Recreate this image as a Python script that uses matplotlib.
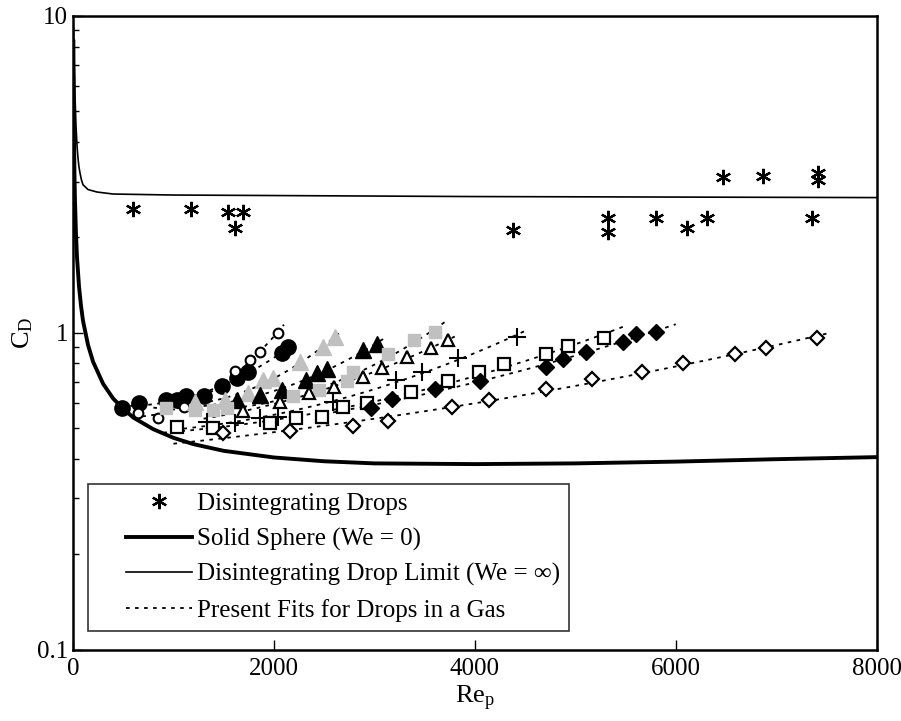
import numpy as np
import matplotlib.pyplot as plt
from matplotlib.lines import Line2D
from matplotlib.legend_handler import HandlerLine2D

plt.rcParams['font.family'] = ['Liberation Serif', 'DejaVu Serif']
plt.rcParams['mathtext.fontset'] = 'custom'
plt.rcParams['mathtext.rm'] = 'Liberation Serif'
plt.rcParams['mathtext.it'] = 'Liberation Serif:italic'

# solid sphere curve (We = 0)
sphere_re = [4, 6, 10, 15, 20, 30, 40, 60, 80, 100, 150, 200, 300, 400, 500, 600, 800,
             1000, 1200, 1500, 2000, 2500, 3000, 4000, 5000, 6000, 7000, 8000]
sphere_cd = [8.3, 6.06, 4.15, 3.14, 2.61, 2.04, 1.73, 1.40, 1.215, 1.09, 0.914, 0.81, 0.69,
             0.62, 0.576, 0.54, 0.496, 0.466, 0.445, 0.424, 0.404, 0.393, 0.387, 0.385,
             0.387, 0.392, 0.399, 0.405]

# disintegrating drop limit (We = inf)
limit_re = [3, 10, 20, 30, 40, 50, 60, 70, 85, 100, 150, 240, 400, 1000, 2000, 4000, 6000, 8000]
limit_cd = [9.5, 7.6, 5.6, 4.5, 3.9, 3.55, 3.33, 3.19, 3.03, 2.93, 2.83, 2.78, 2.74, 2.72,
            2.71, 2.69, 2.68, 2.67]

# disintegrating drops
dis_re = [597, 1174, 1542, 1692, 1612, 4378, 5323, 5323, 5801, 6109, 6308, 6468, 6866, 7353, 7413, 7413]
dis_cd = [2.46, 2.46, 2.40, 2.40, 2.14, 2.11, 2.30, 2.08, 2.30, 2.14, 2.30, 3.10, 3.12, 2.30, 3.19, 3.03]

# drops in a gas, one list per marker series
circ_re = [488, 657, 925, 1035, 1124, 1303, 1483, 1632, 1741, 2080, 2139]
circ_cd = [0.577, 0.599, 0.612, 0.612, 0.631, 0.631, 0.678, 0.718, 0.750, 0.861, 0.900]

ocirc_re = [647, 846, 1104, 1612, 1761, 1861, 2040]
ocirc_cd = [0.557, 0.537, 0.582, 0.756, 0.819, 0.868, 0.996]

gtri_re = [1214, 1512, 1741, 1890, 1990, 2259, 2488, 2607]
gtri_cd = [0.603, 0.612, 0.644, 0.708, 0.718, 0.807, 0.900, 0.968]

btri_re = [1632, 1861, 2080, 2318, 2428, 2527, 2885, 3025]
btri_cd = [0.614, 0.635, 0.658, 0.708, 0.745, 0.767, 0.880, 0.920]

gsq_re = [925, 1214, 1393, 1532, 2189, 2448, 2726, 2786, 3134, 3393, 3602]
gsq_cd = [0.577, 0.570, 0.570, 0.577, 0.631, 0.658, 0.703, 0.750, 0.855, 0.947, 1.004]

otri_re = [1692, 2060, 2348, 2597, 2885, 3075, 3323, 3562, 3731]
otri_cd = [0.565, 0.603, 0.644, 0.673, 0.724, 0.772, 0.837, 0.894, 0.947]

plus_re = [1333, 1612, 1861, 2040, 2587, 3219, 3473, 3831, 4418]
plus_cd = [0.522, 0.518, 0.537, 0.541, 0.603, 0.710, 0.750, 0.835, 0.968]

osq_re = [1035, 1393, 1960, 2219, 2478, 2687, 2925, 3363, 3731, 4045, 4288, 4706, 4925, 5283]
osq_cd = [0.503, 0.499, 0.518, 0.537, 0.541, 0.582, 0.599, 0.649, 0.703, 0.750, 0.795, 0.855, 0.906, 0.961]

bdia_re = [2965, 3174, 3602, 4050, 4706, 4876, 5104, 5473, 5602, 5801]
bdia_cd = [0.577, 0.619, 0.663, 0.703, 0.778, 0.824, 0.868, 0.933, 0.989, 1.006]

odia_re = [1493, 2159, 2786, 3134, 3771, 4139, 4706, 5164, 5662, 6070, 6587, 6895, 7403]
odia_cd = [0.482, 0.488, 0.506, 0.525, 0.582, 0.612, 0.663, 0.713, 0.750, 0.801, 0.855, 0.894, 0.961]

# extent of each dotted fit
fit_lo = [480, 600, 1000, 1300, 800, 1300, 1100, 900, 2500, 1000]
fit_hi = [2200, 2100, 2650, 3100, 3700, 3800, 4500, 5500, 6000, 7500]

gray = '#c0c0c0'
series = [
    (circ_re, circ_cd, dict(marker='o', ms=11, mfc='k', mec='k')),
    (ocirc_re, ocirc_cd, dict(marker='o', ms=7, mfc='white', mec='k', mew=1.5)),
    (gtri_re, gtri_cd, dict(marker='^', ms=11, mfc=gray, mec=gray)),
    (btri_re, btri_cd, dict(marker='^', ms=11, mfc='k', mec='k')),
    (gsq_re, gsq_cd, dict(marker='s', ms=9, mfc=gray, mec=gray)),
    (otri_re, otri_cd, dict(marker='^', ms=9, mfc='white', mec='k', mew=1.6)),
    (plus_re, plus_cd, dict(marker='+', ms=13, mec='k', mew=1.5)),
    (osq_re, osq_cd, dict(marker='s', ms=8, mfc='white', mec='k', mew=1.6)),
    (bdia_re, bdia_cd, dict(marker='D', ms=8, mfc='k', mec='k')),
    (odia_re, odia_cd, dict(marker='D', ms=7, mfc='white', mec='k', mew=1.6)),
]

fig = plt.figure(figsize=(9.01, 7.21), dpi=100)
ax = fig.add_axes([0.081, 0.099, 0.892, 0.879])

ax.plot(sphere_re, sphere_cd, color='k', lw=2.8, zorder=2)
ax.plot(limit_re, limit_cd, color='k', lw=1.2, zorder=2)

for (re, cd, style), lo, hi in zip(series, fit_lo, fit_hi):
    coef = np.polyfit(re, np.log10(cd), 2)
    xs = np.linspace(lo, hi, 100)
    ax.plot(xs, 10 ** np.polyval(coef, xs), color='k', lw=1.3,
            linestyle=(0, (2, 3)), zorder=3)
for re, cd, style in series:
    ax.plot(re, cd, linestyle='none', zorder=4, **style)

ax.plot(dis_re, dis_cd, linestyle='none', marker=(6, 2, 0), ms=11,
        mec='k', mew=1.6, zorder=4)

ax.set_yscale('log')
ax.set_xlim(0, 8000)
ax.set_ylim(0.1, 10)
ax.set_xticks([0, 2000, 4000, 6000, 8000])
ax.set_yticks([0.1, 1, 10])
ax.set_yticklabels(['0.1', '1', '10'])
ax.tick_params(axis='both', which='both', direction='in', labelsize=18)
ax.tick_params(axis='both', which='major', length=7, width=1)
ax.tick_params(axis='y', which='minor', length=4, width=1)
ax.tick_params(axis='y', which='minor', labelleft=False)
ax.tick_params(axis='x', pad=6)
for s in ax.spines.values():
    s.set_linewidth(1.8)

ax.set_xlabel(r'$\mathrm{Re_p}$', fontsize=19, labelpad=3)
ax.set_ylabel(r'$\mathrm{C_D}$', fontsize=19, labelpad=1)

handles = [
    Line2D([], [], linestyle='none', marker=(6, 2, 0), ms=11, mec='k', mew=1.6),
    Line2D([], [], color='k', lw=2.8),
    Line2D([], [], color='k', lw=1.2),
    Line2D([], [], color='k', lw=1.3, linestyle=(0, (2, 3))),
]
labels = ['Disintegrating Drops', 'Solid Sphere (We = 0)',
          'Disintegrating Drop Limit (We = \u221e)', 'Present Fits for Drops in a Gas']
leg = ax.legend(handles, labels, loc='lower left', bbox_to_anchor=(0.019, 0.03),
                borderaxespad=0, fontsize=18, frameon=True, fancybox=False,
                handlelength=3.8, handletextpad=0.2, labelspacing=0.5,
                borderpad=0.35,
                handler_map={h: HandlerLine2D(xpad=1.15) for h in handles})
leg.get_frame().set_edgecolor('k')
leg.get_frame().set_linewidth(1.2)

fig.savefig('out.png', dpi=100)
